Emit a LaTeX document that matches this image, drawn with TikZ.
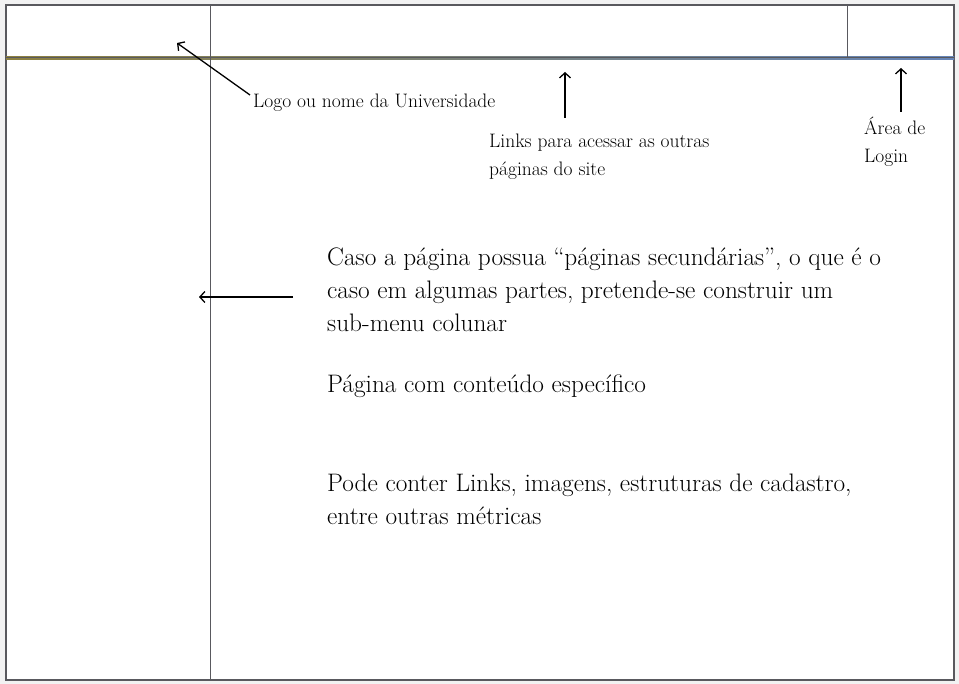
\documentclass[tikz,border=0pt]{standalone}
\usepackage{tikz}
\usetikzlibrary{arrows.meta}
\definecolor{framegray}{rgb}{0.35,0.35,0.37}
\definecolor{barolive}{rgb}{0.55,0.50,0.25}
\definecolor{barblue}{rgb}{0.40,0.52,0.72}

\tikzset{
  small label/.style={anchor=west,align=left,inner sep=0pt,font=\fontsize{19.5}{28}\selectfont},
  big label/.style={anchor=west,align=left,inner sep=0pt,font=\fontsize{25.3}{33}\selectfont},
  pointer/.style={-{Straight Barb[length=5pt,width=11pt]},line width=1.3pt}
}

\begin{document}
\begin{tikzpicture}[x=1pt,y=-1pt]
  \useasboundingbox (0,0) rectangle (959,684);
  \fill[gray!10] (0,0) rectangle (959,684);
  \fill[white,draw=framegray,line width=1.2pt] (6,5) rectangle (954,680);
  % menu bar and columns
  \shade[left color=barolive,middle color=gray!75,right color=barblue] (6,57) rectangle (954,60);
  \draw[framegray,line width=0.6pt] (6,57.5) -- (954,57.5);
  \draw[framegray,line width=0.8pt] (210,5) -- (210,680);
  \draw[framegray,line width=0.8pt] (847,5) -- (847,57);
  % labels
  \node[small label] (logo) at (253,103) {Logo ou nome da Universidade};
  \node[small label] (links) at (489,157) {Links para acessar as outras\\p\'aginas do site};
  \node[small label] (login) at (864,142) {\'Area de\\Login};
  \node[big label] (sub) at (327,290) {Caso a p\'agina possua ``p\'aginas secund\'arias'', o que \'e o\\caso em algumas partes, pretende-se construir um\\sub-menu colunar};
  \node[big label] (page) at (327,386) {P\'agina com conte\'udo espec\'ifico};
  \node[big label] (more) at (327,499) {Pode conter Links, imagens, estruturas de cadastro,\\entre outras m\'etricas};
  % arrow ends
  \coordinate (logotail) at (250,95);
  \coordinate (logotip) at (177,43);
  \coordinate (linkstail) at (565,118);
  \coordinate (linkstip) at (565,72);
  \coordinate (logintail) at (901,112);
  \coordinate (logintip) at (901,68);
  \coordinate (subtail) at (293,297);
  \coordinate (subtip) at (199,297);
  \draw[pointer] (logotail) -- (logotip);
  \draw[pointer] (linkstail) -- (linkstip);
  \draw[pointer] (logintail) -- (logintip);
  \draw[pointer] (subtail) -- (subtip);
\end{tikzpicture}
\end{document}
